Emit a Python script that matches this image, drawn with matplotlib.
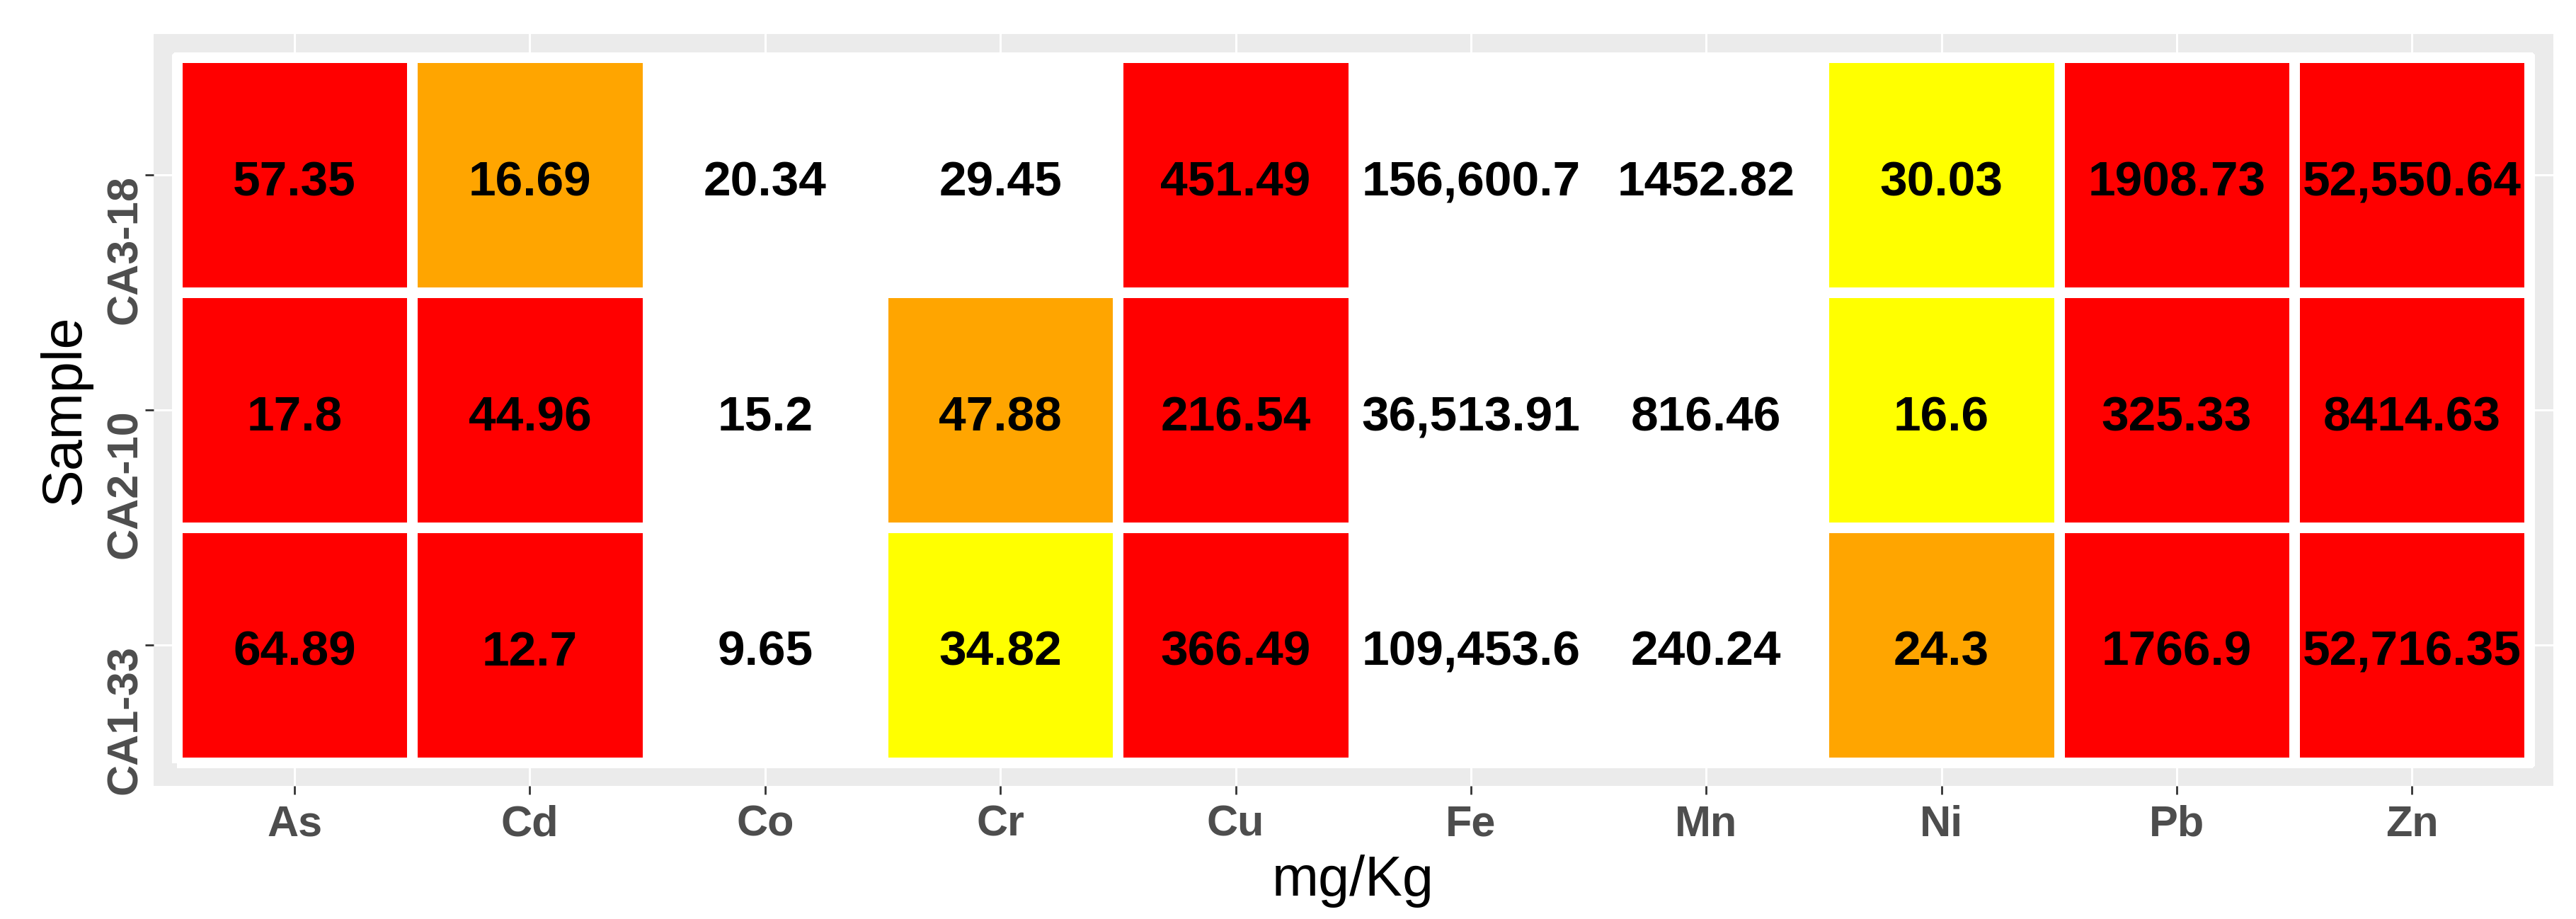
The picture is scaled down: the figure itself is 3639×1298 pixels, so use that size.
import numpy as np
import matplotlib.pyplot as plt
from matplotlib.colors import ListedColormap

plt.rcParams['font.family'] = ['Liberation Sans', 'DejaVu Sans']

# data
elements = ['As', 'Cd', 'Co', 'Cr', 'Cu', 'Fe', 'Mn', 'Ni', 'Pb', 'Zn']
samples = ['CA1-33', 'CA2-10', 'CA3-18']  # bottom -> top

labels_ca1_33 = ['64.89', '12.7', '9.65', '34.82', '366.49', '109,453.6', '240.24', '24.3', '1766.9', '52,716.35']
labels_ca2_10 = ['17.8', '44.96', '15.2', '47.88', '216.54', '36,513.91', '816.46', '16.6', '325.33', '8414.63']
labels_ca3_18 = ['57.35', '16.69', '20.34', '29.45', '451.49', '156,600.7', '1452.82', '30.03', '1908.73', '52,550.64']

level_ca1_33 = ['red', 'red', 'none', 'yellow', 'red', 'none', 'none', 'orange', 'red', 'red']
level_ca2_10 = ['red', 'red', 'none', 'orange', 'red', 'none', 'none', 'yellow', 'red', 'red']
level_ca3_18 = ['red', 'orange', 'none', 'none', 'red', 'none', 'none', 'yellow', 'red', 'red']

level_names = ['none', 'yellow', 'orange', 'red']
level_colors = ['#FFFFFF', '#FFFF00', '#FFA500', '#FF0000']

labels = [labels_ca1_33, labels_ca2_10, labels_ca3_18]
levels = [level_ca1_33, level_ca2_10, level_ca3_18]
grid = np.array([[level_names.index(c) for c in row] for row in levels])

# figure
fig = plt.figure(figsize=(36.39, 12.98), dpi=100)
ax = fig.add_axes([0.05955, 0.14484, 0.93157, 0.81841])
ax.set_facecolor('#EBEBEB')

ax.pcolormesh(np.arange(len(elements) + 1) - 0.5, np.arange(len(samples) + 1) - 0.5, grid,
              cmap=ListedColormap(level_colors), vmin=-0.5, vmax=len(level_colors) - 0.5,
              edgecolors='white', linewidth=10.8)

for i, row in enumerate(labels):
    for j, txt in enumerate(row):
        ax.annotate(txt, (j, i), xytext=(0, -21), textcoords='offset points',
                    ha='center', va='baseline', fontsize=50, fontweight='bold', color='black')

ax.set_xlim(-0.6, len(elements) - 0.4)
ax.set_ylim(-0.6, len(samples) - 0.4)

ax.set_xticks(range(len(elements)), elements)
ax.set_yticks(range(len(samples)), samples)
ax.tick_params(length=8.6, width=2, color='#333333', labelcolor='#4D4D4D', labelsize=44)
ax.tick_params(axis='x', pad=10.5)
ax.tick_params(axis='y', pad=8.3)
plt.setp(ax.get_xticklabels(), fontweight='bold')
plt.setp(ax.get_yticklabels(), fontweight='bold', rotation=90, rotation_mode='anchor',
         ha='right', va='baseline')

for s in ax.spines.values():
    s.set_visible(False)
ax.grid(True, color='white', linewidth=2.2)
ax.set_axisbelow(True)

ax.set_xlabel('mg/Kg', fontsize=57)
ax.xaxis.set_label_coords(0.5, -0.0913)
ax.set_ylabel('Sample', fontsize=57)
ax.yaxis.set_label_coords(-0.0256, 0.5)

fig.savefig('out.png', dpi=100)
